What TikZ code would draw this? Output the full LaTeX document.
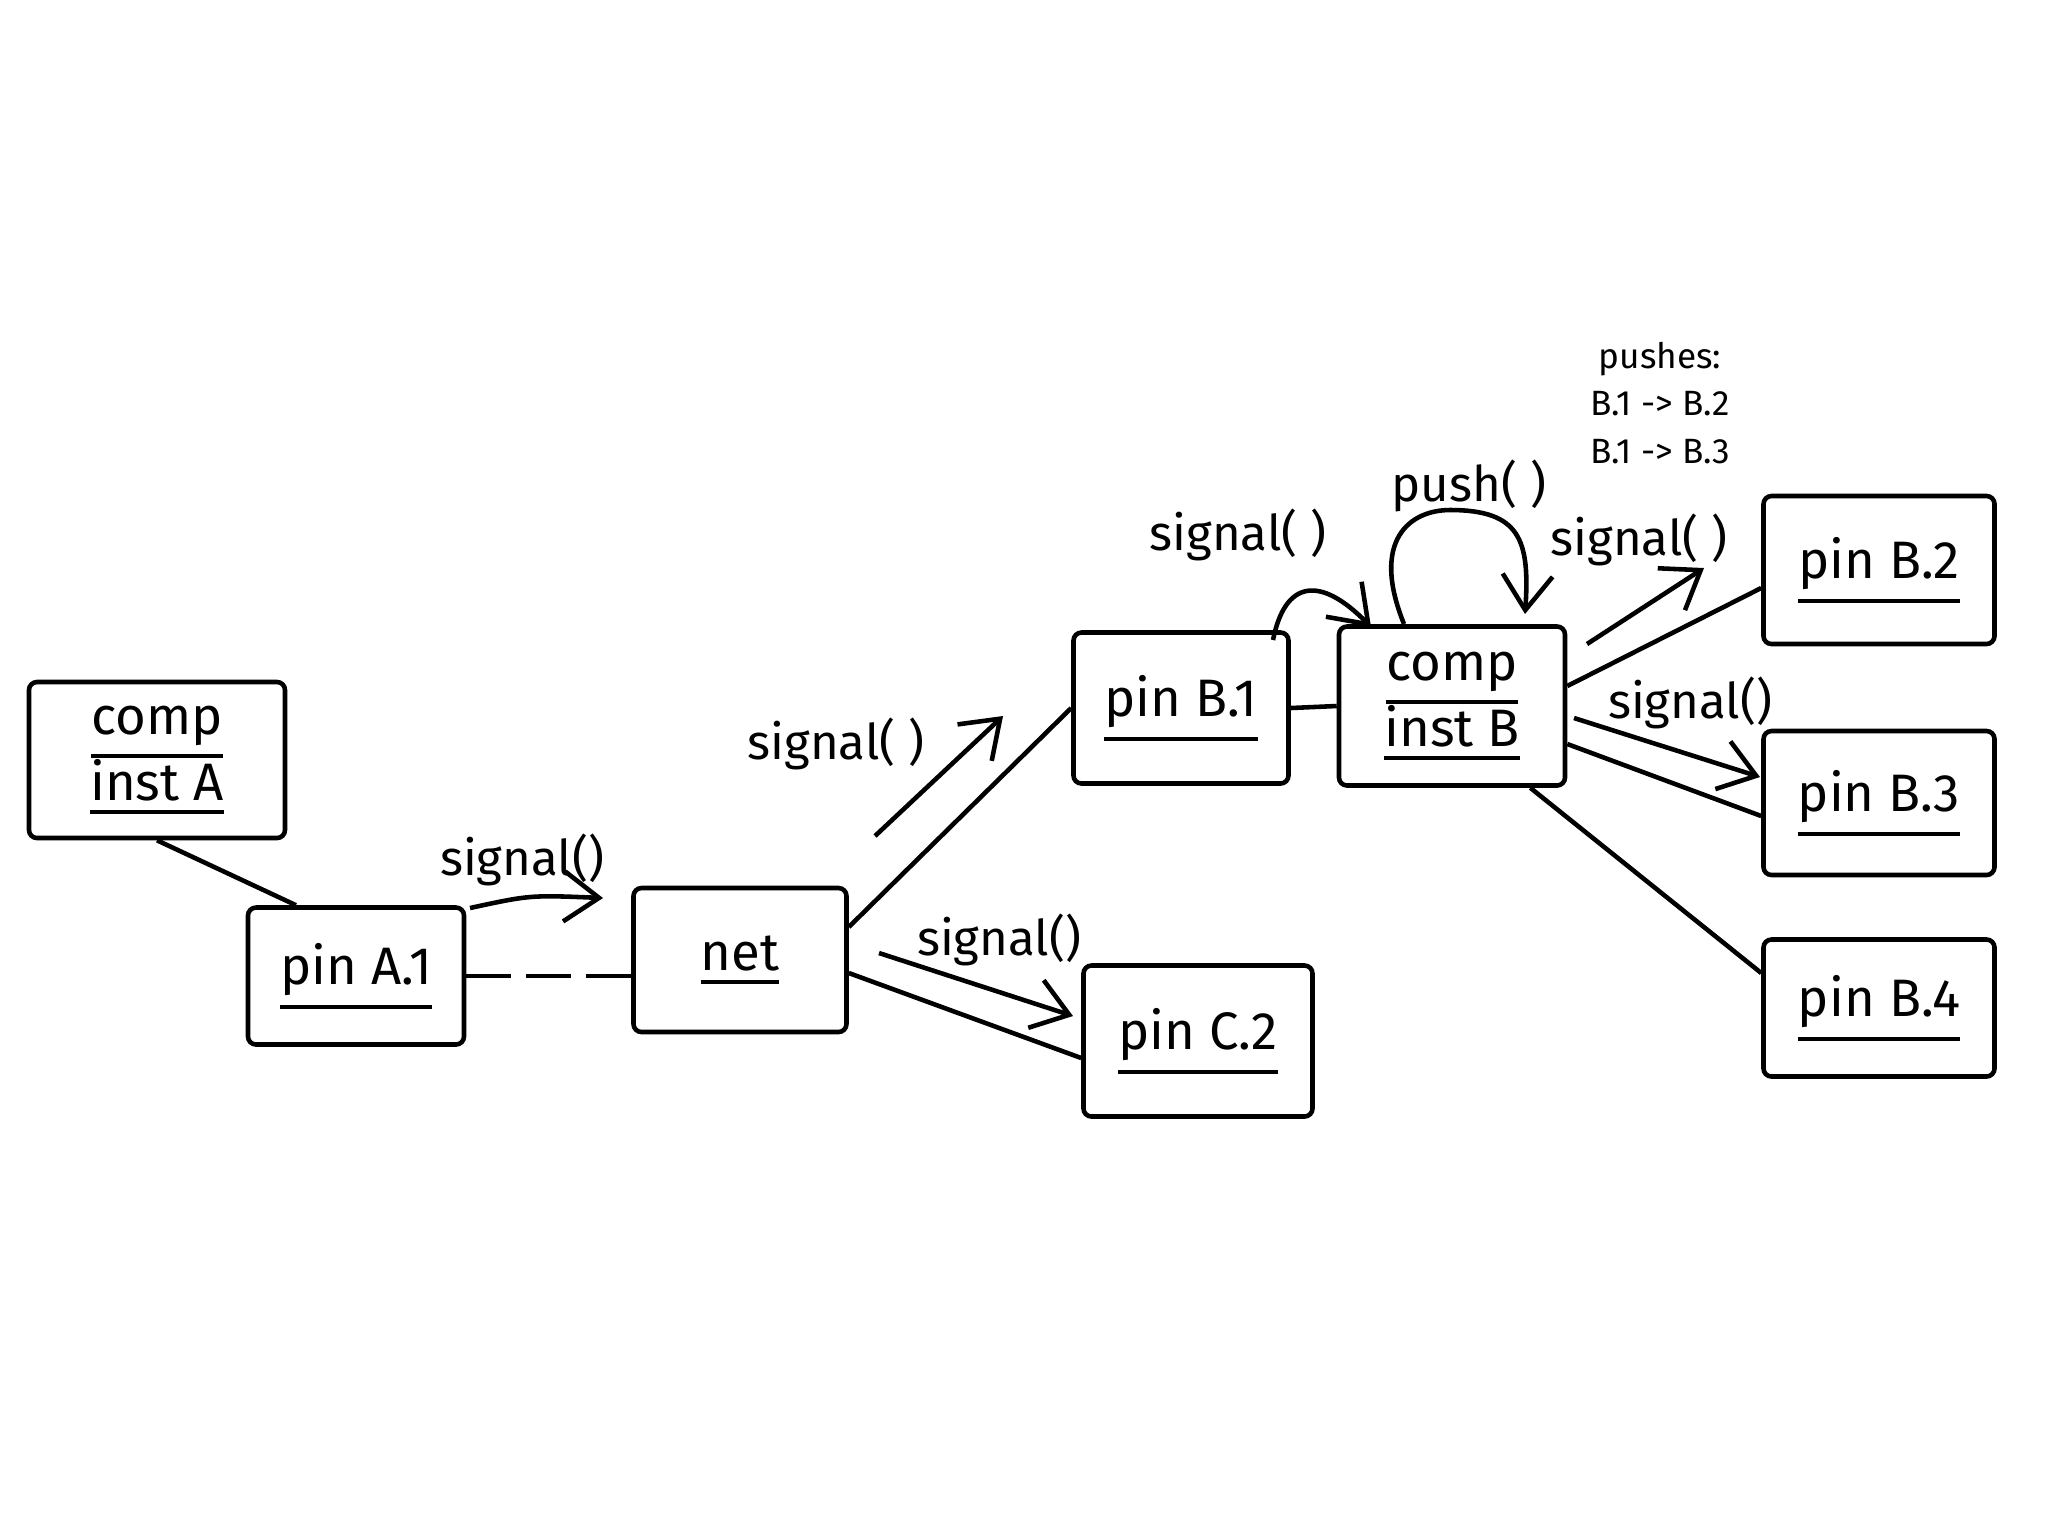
\documentclass[tikz,border=0pt]{standalone}
\usepackage{fontspec}
\setmainfont{Fira Sans}
\usetikzlibrary{arrows.meta}
\newcommand\hul[1]{\setbox0\hbox{#1}\vtop{\copy0\kern2.5pt\hrule height 1.1pt width \wd0}}
\begin{document}
\begin{tikzpicture}[x=0.1mm,y=-0.1mm,
  box/.style={draw, line width=1.3pt, inner sep=0pt, align=center,
    rounded corners=0.8mm,
    font=\fontsize{15}{19}\selectfont},
  lbl/.style={font=\fontsize{14}{16}\selectfont},
  conn/.style={line width=1.3pt},
  sig/.style={line width=1.3pt, -{Straight Barb[length=3.5mm,width=5mm,line width=1.3pt]}}]
\useasboundingbox (0,0) rectangle (2048,1536);
% nodes
\node[box, minimum width=25.6mm, minimum height=15.6mm] (compA) at (157,760) {\hul{comp}\\\hul{inst A}};
\node[box, minimum width=21.6mm, minimum height=13.7mm] (pinA1) at (356,976) {\hul{pin A.1}};
\node[box, minimum width=21.3mm, minimum height=14.4mm] (net) at (740,960) {\hul{net}};
\node[box, minimum width=21.5mm, minimum height=15.1mm] (pinB1) at (1181,708) {\hul{pin B.1}};
\node[box, minimum width=22.6mm, minimum height=15.9mm] (compB) at (1452,706) {\hul{comp}\\\hul{inst B}};
\node[box, minimum width=22.9mm, minimum height=15.1mm] (pinC2) at (1198,1041) {\hul{pin C.2}};
\node[box, minimum width=23.1mm, minimum height=14.8mm] (pinB2) at (1879,570) {\hul{pin B.2}};
\node[box, minimum width=23.1mm, minimum height=14.4mm] (pinB3) at (1879,803) {\hul{pin B.3}};
\node[box, minimum width=23.1mm, minimum height=13.7mm] (pinB4) at (1879,1008) {\hul{pin B.4}};
% labels
\node[lbl] (l1) at (522,860) {signal()};
\node[lbl] (l2) at (836,744) {signal( )};
\node[lbl] (l3) at (1238,535) {signal( )};
\node[lbl] (l4) at (1469,486) {push( )};
\node[lbl] (l5) at (1639,540) {signal( )};
\node[lbl] (l6) at (1690,703) {signal()};
\node[lbl] (l7) at (999,940) {signal()};
\node[align=center, font=\fontsize{10}{13.6}\selectfont] (notes) at (1660,403) {pushes:\\B.1 -> B.2\\B.1 -> B.3};
% connectors
\draw[conn] (compA.south) -- ([xshift=-6mm]pinA1.north);
\draw[conn, dash pattern=on 4.5mm off 1.5mm] (pinA1.east) -- (net.west |- pinA1.east);
\draw[conn] ([yshift=3.3mm]net.east) -- (pinB1.west);
\draw[conn] ([yshift=-1.3mm]net.east) -- ([yshift=-1.7mm]pinC2.west);
\draw[conn] (pinB1.east) -- (compB.west);
\draw[conn] ([yshift=2mm]compB.east) -- ([yshift=-1.8mm]pinB2.west);
\draw[conn] ([yshift=-3.8mm]compB.east) -- ([yshift=-1.3mm]pinB3.west);
\draw[conn] ([xshift=-3.7mm]compB.south east) -- ([yshift=3.5mm]pinB4.west);
% signal arrows
\coordinate (s1a) at (470,908); \coordinate (s1b) at (603,898);
\draw[sig] (s1a) .. controls (530,895) .. (s1b);
\coordinate (s2a) at (875,836); \coordinate (s2b) at (1003,716);
\draw[sig] (s2a) -- (s2b);
\coordinate (s3a) at (1273,640); \coordinate (s3b) at (1371,627);
\draw[sig] (s3a) .. controls (1285,580) and (1320,575) .. (s3b);
\coordinate (s4a) at (1404,624); \coordinate (s4b) at (1525,614);
\draw[sig] (s4a) .. controls (1370,540) and (1410,510) .. (1450,510) .. controls (1520,510) and (1530,540) .. (s4b);
\coordinate (s5a) at (1587,644); \coordinate (s5b) at (1704,568);
\draw[sig] (s5a) -- (s5b);
\coordinate (s6a) at (1574,718); \coordinate (s6b) at (1760,777);
\draw[sig] (s6a) -- (s6b);
\coordinate (s7a) at (879,953); \coordinate (s7b) at (1073,1016);
\draw[sig] (s7a) -- (s7b);
\end{tikzpicture}
\end{document}
